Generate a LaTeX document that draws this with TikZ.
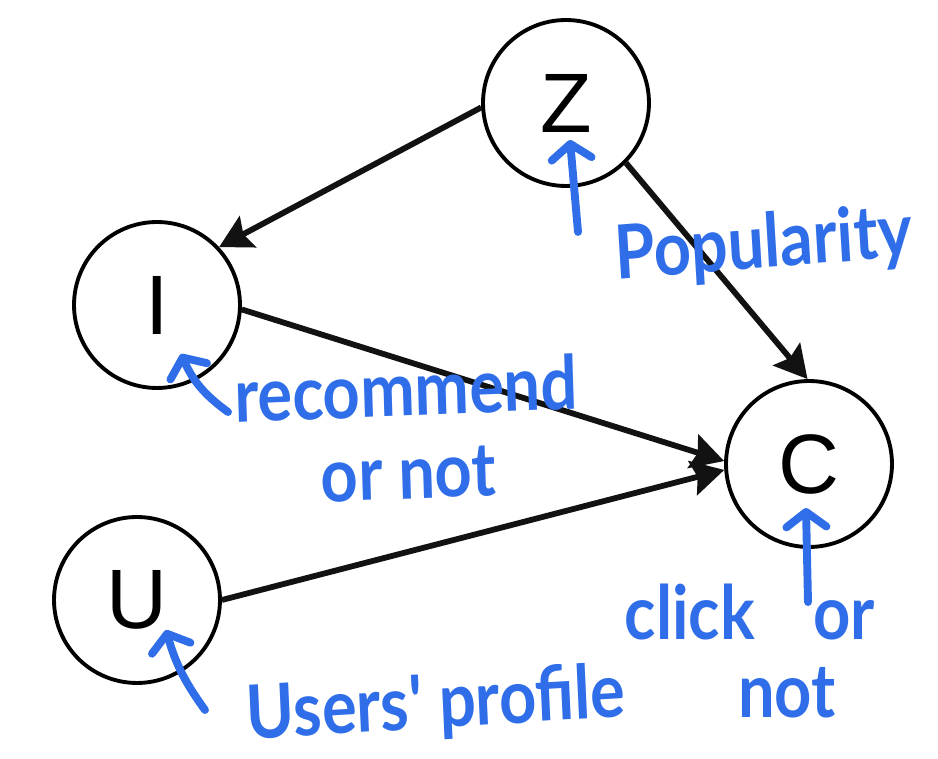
\documentclass[tikz,border=0pt]{standalone}
\usepackage{fontspec}
\setmainfont{Liberation Sans}
\newfontfamily\handfont{Lato}
\usetikzlibrary{arrows.meta}
\tikzset{
  varnode/.style = {circle, draw = black, line width = 2.2pt, minimum size = 3.32cm, inner sep = 0pt, font = \fontsize{48}{50}\selectfont},
  causal/.style = {line width = 3.3pt, draw = black!93, -{Stealth[length = 6.5mm, width = 7mm, inset = 1mm]}},
  handnote/.style = {text = mycolor, font = \handfont\bfseries\fontsize{37}{36}\selectfont, anchor = base, yscale = 1.15, inner sep = 0pt},
  handarrow/.style = {draw = mycolor, line width = 4.5pt, line cap = round, line join = round, -{Straight Barb[length = 3mm, width = 8mm, round]}}
}
\begin{document}
\begin{tikzpicture}[x = 0.02cm, y = -0.02cm]
\definecolor{mycolor}{RGB}{47,110,232}
\useasboundingbox (0,0) rectangle (938,759);
\node[varnode] (Z) at (566,103) {Z};
\node[varnode] (I) at (157,305) {I};
\node[varnode] (C) at (809,464) {C};
\node[varnode] (U) at (137,600) {U};
\draw[causal] (Z.183) -- (I.43);
\draw[causal] (Z.-45) -- (C.91);
\draw[causal] (I.-3) -- (C.178);
\draw[causal] (U.0) -- (C.184);
\node[handnote, rotate = 4] (pop) at (765,268) {Popularity};
\node[handnote, rotate = 2, anchor = north, align = center] (rec) at (405,360) {recommend\\[5pt]or not};
\node[handnote] (click) at (750,640) {click\hspace{0.9em}or};
\node[handnote] (clicknot) at (787,718) {not};
\node[handnote, rotate = 3] (prof) at (437,728) {Users' profile};
\coordinate (Ztail) at (578,232);
\coordinate (Ztip) at (570,140);
\coordinate (Itail) at (228,412);
\coordinate (Itip) at (181,354);
\coordinate (Utail) at (205,710);
\coordinate (Utip) at (166,630);
\coordinate (Ctail) at (808,602);
\coordinate (Ctip) at (806,508);
\draw[handarrow] (Ztail) -- (Ztip);
\draw[handarrow] (Itail) to[bend left = 15] (Itip);
\draw[handarrow] (Utail) to[bend left = 10] (Utip);
\draw[handarrow] (Ctail) -- (Ctip);
\end{tikzpicture}
\end{document}
